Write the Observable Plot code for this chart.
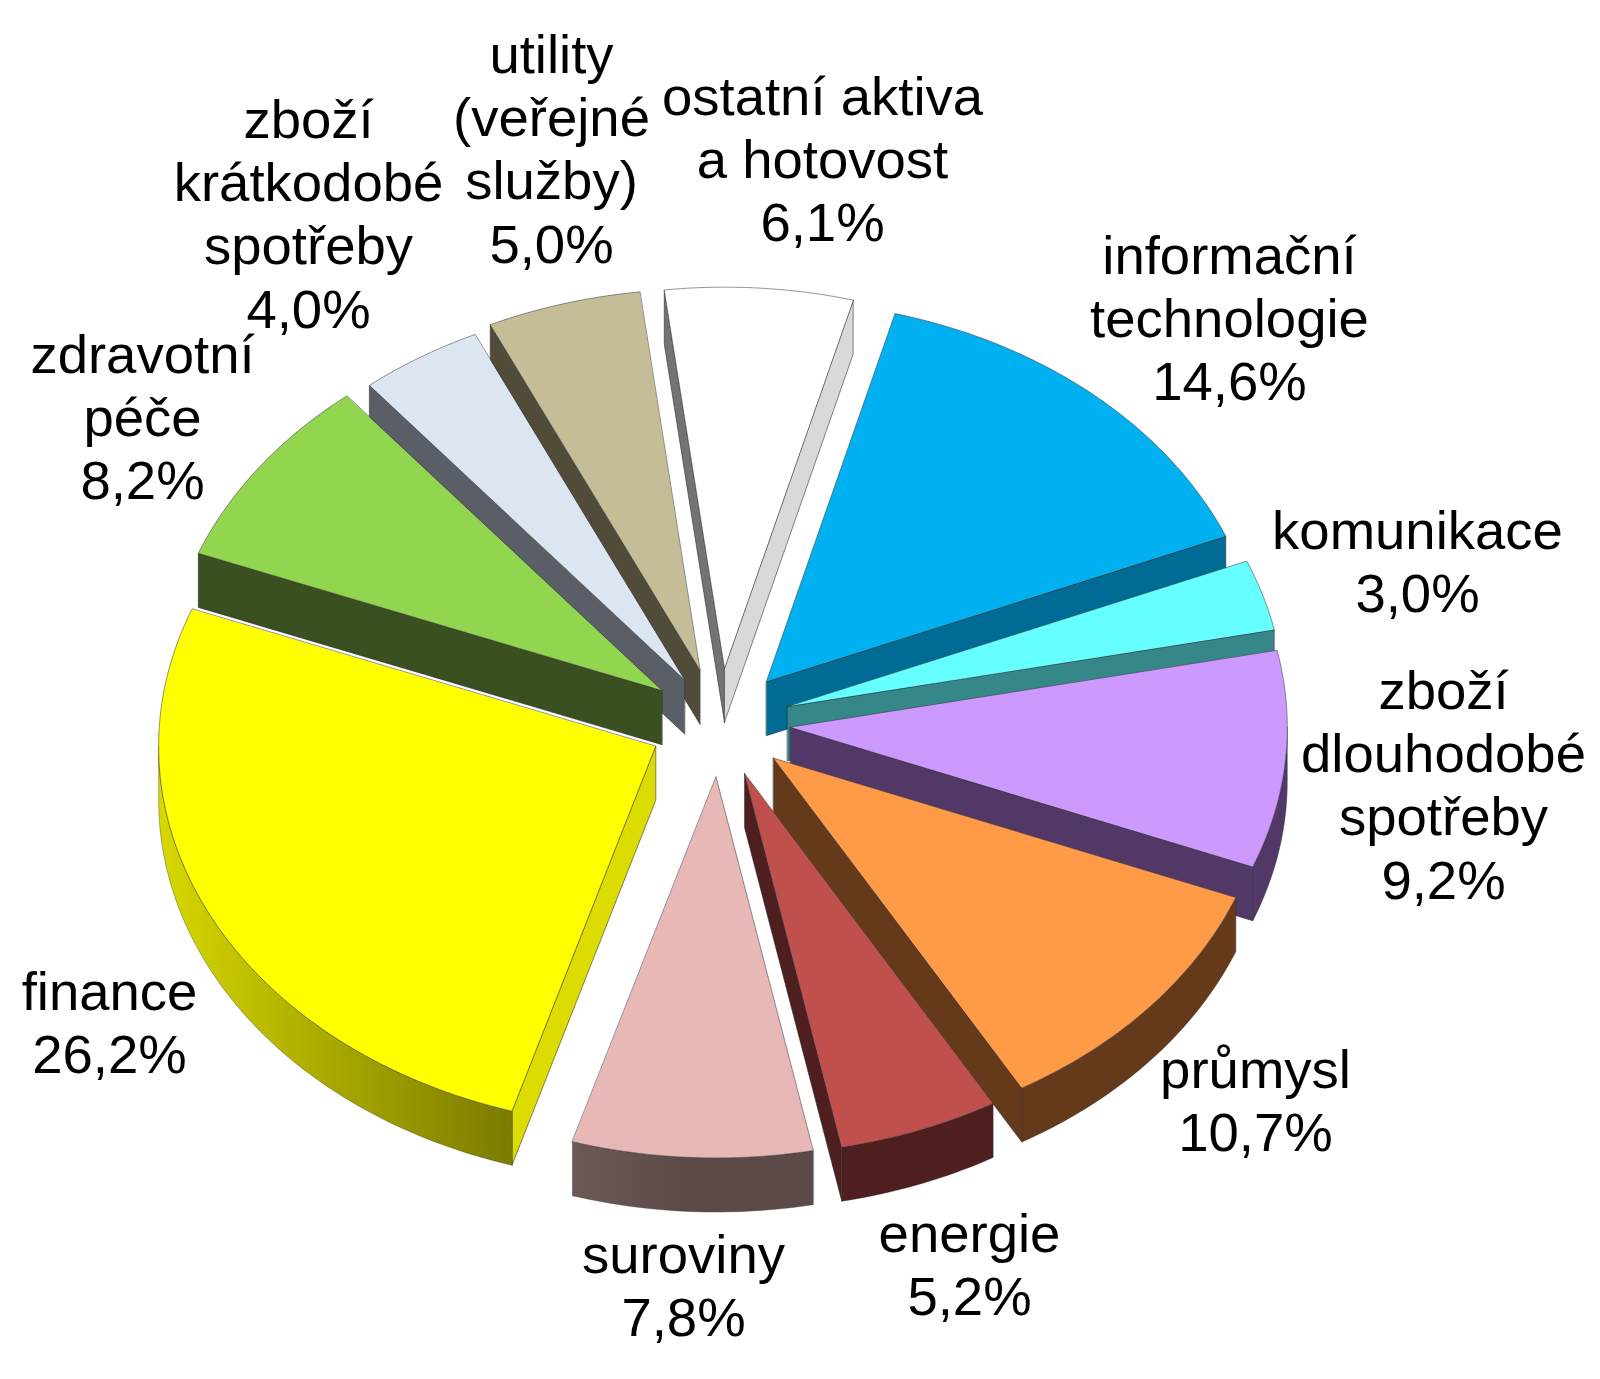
<!DOCTYPE html>
<html>
<head>
<meta charset="utf-8">
<script src="https://cdn.jsdelivr.net/npm/d3@7"></script>
<script src="https://cdn.jsdelivr.net/npm/@observablehq/plot@0.6"></script>
<style>html,body{margin:0;padding:0;background:#fff}svg{display:block}</style>
</head>
<body>
<div id="chart"></div>
<script>
// Data, clockwise from the top
const categories = ["ostatní aktiva\na hotovost", "informační\ntechnologie", "komunikace", "zboží\ndlouhodobé\nspotřeby", "průmysl", "energie", "suroviny", "finance", "zdravotní\npéče", "zboží\nkrátkodobé\nspotřeby", "utility\n(veřejné\nslužby)"];
const values = [6.1, 14.6, 3.0, 9.2, 10.7, 5.2, 7.8, 26.2, 8.2, 4.0, 5.0];
// How far each slice is pulled out of the pie
const explosions = [0.143, 0.143, 0.143, 0.143, 0.143, 0.143, 0.143, 0.143, 0.143, 0.132, 0.143];
// Colours
const topColors = ["#ffffff", "#00b0f0", "#66ffff", "#cc99ff", "#ff9a47", "#c0504d", "#e8b8b7", "#ffff00", "#92d650", "#dce6f2", "#c4bd97"];
const startFaceColors = ["#737373", "#006c95", "#36878a", "#513866", "#653a1a", "#4f1e1e", "#5c4a49", "#dcdc00", "#3a5020", "#5a5e66", "#514c3a"];
const endFaceColors = ["#d9d9d9", "#006c95", "#36878a", "#513866", "#653a1a", "#4f1e1e", "#5c4a49", "#dcdc00", "#3a5020", "#5a5e66", "#514c3a"];
// Rim shading, left / middle / right across each slice's outer wall
const rimLeft = ["#737373", "#006c95", "#36878a", "#513866", "#653a1a", "#4f1e1e", "#6c5857", "#d8d800", "#3a5020", "#5a5e66", "#514c3a"];
const rimMiddle = ["#737373", "#006c95", "#36878a", "#513866", "#653a1a", "#4f1e1e", "#5c4a49", "#acac00", "#3a5020", "#5a5e66", "#514c3a"];
const rimRight = ["#737373", "#006c95", "#36878a", "#513866", "#653a1a", "#4f1e1e", "#5c4a49", "#7b7b00", "#3a5020", "#5a5e66", "#514c3a"];
// Label placement in page pixels (centre of each text block)
const labelCenters = [[822,157],[1229,316],[1417,560],[1443,783],[1255,1099],[969,1263],[683,1284],[109,1021],[142,415],[308,212],[551,147]];
// Pie geometry: the unit pie projected onto the page
const cx = 719, cy = 722, a = 497, b = 381;
const depth = 0.142;
const startAngle = -6.96 * Math.PI / 180;

const arcs = d3.pie().sort(null).startAngle(startAngle).endAngle(startAngle + 2 * Math.PI)(values);
const DEG = Math.PI / 180;
const fmt = v => v.toFixed(1).replace(".", ",") + "%";

function sampler(arc, explode) {
  const mid = (arc.startAngle + arc.endAngle) / 2;
  const ox = explode * Math.sin(mid), oy = explode * Math.cos(mid);
  return (t, r, z) => ({u: ox + r * Math.sin(t), v: oy + r * Math.cos(t) - z});
}
function arcAngles(t0, t1) {
  const n = Math.max(2, Math.ceil(Math.abs(t1 - t0) / DEG));
  return d3.range(n + 1).map(i => t0 + (t1 - t0) * i / n);
}
const poly = (pts, fill, stroke, strokeWidth = 1, strokeOpacity = 1) =>
  Plot.line(pts, {x: "u", y: "v", curve: "linear-closed", fill, stroke, strokeWidth, strokeOpacity});

const order = d3.range(arcs.length).sort((i, j) => {
  const c = k => Math.cos((arcs[k].startAngle + arcs[k].endAngle) / 2);
  return c(j) - c(i);
});

// Gradients for the outer walls
const gradients = () => {
  const defs = d3.create("svg:defs");
  categories.forEach((_, i) => {
    const g = defs.append("linearGradient").attr("id", `rim-${i}`).attr("x1", 0).attr("x2", 1).attr("y1", 0).attr("y2", 0);
    [[0, rimLeft[i]], [0.45, rimMiddle[i]], [1, rimRight[i]]].forEach(([o, c]) =>
      g.append("stop").attr("offset", o).attr("stop-color", c));
  });
  return defs.node();
};

const marks = [gradients];
for (const i of order) {
  const arc = arcs[i], P = sampler(arc, explosions[i]);
  const t0 = arc.startAngle, t1 = arc.endAngle;
  const face = (t, col) => poly([P(t,0,0), P(t,1,0), P(t,1,depth), P(t,0,depth)], col, "#2a2a2a", 0.8, 0.7);
  if (Math.sin(t0) < 0) marks.push(face(t0, startFaceColors[i]));
  if (Math.sin(t1) > 0) marks.push(face(t1, endFaceColors[i]));
  const r0 = Math.max(t0, Math.PI / 2), r1 = Math.min(t1, 3 * Math.PI / 2);
  if (r1 > r0) {
    const ts = arcAngles(r0, r1);
    marks.push(poly([...ts.map(t => P(t,1,0)), ...ts.slice().reverse().map(t => P(t,1,depth))], `url(#rim-${i})`, "#2a2a2a", 0.7, 0.5));
  }
  marks.push(poly([P(t0,0,0), ...arcAngles(t0, t1).map(t => P(t,1,0))], topColors[i], "#3c3c3c", 0.9, 0.6));
}
categories.forEach((name, i) => {
  const [px, py] = labelCenters[i];
  marks.push(Plot.text([{u: (px - cx) / a, v: (cy - py) / b, t: name + "\n" + fmt(values[i])}], {
    x: "u", y: "v", text: "t", textAnchor: "middle", lineAnchor: "middle", lineHeight: 1.16,
    fontSize: 54.5, fontFamily: "'Liberation Sans', Arial, sans-serif", fill: "#000"
  }));
});

const chart = Plot.plot({
  width: 1600, height: 1379,
  marginTop: 0, marginRight: 0, marginBottom: 0, marginLeft: 0,
  x: {domain: [-1, 1], range: [cx - a, cx + a], axis: null},
  y: {domain: [-1, 1], range: [cy + b, cy - b], axis: null},
  style: {background: "#fff", overflow: "visible"},
  marks
});
document.getElementById("chart").appendChild(chart);
</script>
</body>
</html>
